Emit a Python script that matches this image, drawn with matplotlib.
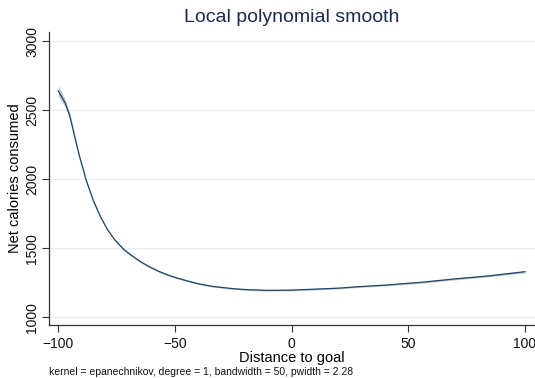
import matplotlib
matplotlib.use("Agg")
import matplotlib.pyplot as plt
import numpy as np

plt.rcParams["font.family"] = ["Liberation Sans", "DejaVu Sans"]

# smoothed curve
dist = [-100, -98, -97, -95, -93, -91, -88, -85, -82, -79, -76, -72, -68, -65,
        -61, -57, -53, -49, -44, -40, -34, -25, -19, -10, -5, 0, 12, 20, 29,
        41, 56, 70, 84, 100]
cal = [2640, 2580, 2550, 2454, 2309, 2170, 1990, 1845, 1730, 1637, 1565, 1492,
       1440, 1405, 1366, 1333, 1306, 1284, 1260, 1243, 1224, 1207, 1200, 1195,
       1196, 1197, 1205, 1211, 1222, 1234, 1254, 1278, 1299, 1330]
ci_half = [38, 32, 28, 22, 17, 14, 11, 9, 8, 7, 7, 7, 6, 6, 6, 6, 6, 6, 6, 6,
           6, 6, 6, 6, 6, 6, 6, 6, 6, 6, 6, 7, 7, 8]

yticks = [1000, 1500, 2000, 2500, 3000]
xticks = [-100, -50, 0, 50, 100]

dist = np.array(dist); cal = np.array(cal); ci_half = np.array(ci_half)

fig = plt.figure(figsize=(5.35, 3.78), dpi=100)
ax = fig.add_axes([49 / 535, 53 / 378, 486 / 535, 293 / 378])

ax.fill_between(dist, cal - ci_half, cal + ci_half, color="#b4b4b4", alpha=0.75,
                linewidth=0, zorder=2)
ax.plot(dist, cal, color="#1a476f", linewidth=0.9, zorder=3)

ax.set_xlim(-104, 104.3)
ax.set_ylim(944, 3067)
ax.set_xticks(xticks)
ax.set_yticks(yticks)
ax.set_yticklabels([str(v) for v in yticks], rotation=90, va="center")
ax.tick_params(labelsize=10, length=5, width=0.8, color="#333333", colors="#111111")
ax.tick_params(axis="y", pad=2)
ax.yaxis.grid(True, color="#e8eff0", linewidth=0.9, zorder=0)
ax.set_axisbelow(True)
for s in ["top", "right"]:
    ax.spines[s].set_visible(False)
for s in ["left", "bottom"]:
    ax.spines[s].set_color("#333333")
    ax.spines[s].set_linewidth(0.9)

ax.set_xlabel("Distance to goal", fontsize=10.5, labelpad=0)
ax.set_ylabel("Net calories consumed", fontsize=10.5, labelpad=2)
fig.text(0.545, 0.955, "Local polynomial smooth", fontsize=14, color="#1e2b50",
         ha="center", va="center")
fig.text(49 / 535, 6 / 378, "kernel = epanechnikov, degree = 1, bandwidth = 50, pwidth = 2.28",
         fontsize=7.5, ha="left", va="center", color="#111111")

fig.savefig("out.png", dpi=100)
